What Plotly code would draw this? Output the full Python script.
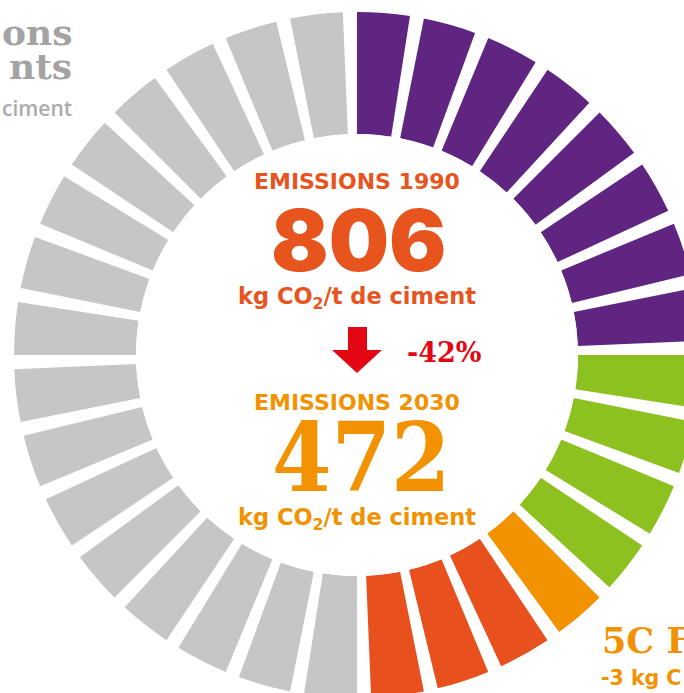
import plotly.graph_objects as go

# ---- data ----
group_names = ["Violet", "Vert", "Orange", "Rouge", "Gris"]
group_counts = [8, 4, 1, 3, 16]          # number of segments per group, clockwise from 12 o'clock
segment_value = 1                        # every segment has the same length
title_lines = ["ons", "nts"]
title_unit = "ciment"
label_1990 = "EMISSIONS 1990"
value_1990 = 806
label_2030 = "EMISSIONS 2030"
value_2030 = 472
unit_text = "kg CO<sub>2</sub>/t de ciment"
change_text = "-42%"
lever_title = "5C F"
lever_sub = "-3 kg C"

# ---- style ----
group_colors = {"Violet": "#5F2581", "Vert": "#8CC11F", "Orange": "#F39200",
                "Rouge": "#E8511D", "Gris": "#C6C6C6"}
cx, cy = 357, 355                 # ring centre in window pixels
r_in, r_out = 221, 343
W, H = 2 * cx, 2 * cy             # figure larger than the window: the ring is cropped like the reference
R = min(W, H) / 2

n_seg = sum(group_counts)
step = 360 / n_seg
bar_width = step * 0.79

seg_colors = []
seg_labels = []
for g, c in zip(group_names, group_counts):
    seg_colors += [group_colors[g]] * c
    seg_labels += [g] * c
thetas = [i * step + bar_width / 2 for i in range(n_seg)]
values = [segment_value for _ in range(n_seg)]

fig = go.Figure()
fig.add_trace(go.Barpolar(r=values, theta=thetas, width=[bar_width] * n_seg,
                          marker=dict(color=seg_colors, line=dict(width=0)),
                          text=seg_labels, hoverinfo="text", showlegend=False))

fig.update_layout(
    width=W, height=H, margin=dict(l=0, r=0, t=0, b=0),
    paper_bgcolor="white", plot_bgcolor="white", template="none",
    polar=dict(
        domain=dict(x=[0, 1], y=[0, 1]),
        hole=r_in / R,
        bgcolor="white",
        radialaxis=dict(visible=False, range=[0, segment_value * (R - r_in) / (r_out - r_in)],
                        showgrid=False, showline=False),
        angularaxis=dict(visible=False, rotation=90, direction="clockwise",
                         showgrid=False, showline=False),
    ),
)

def px(x):
    return x / W

def py(y):
    return 1 - y / H

def ann(text, x, y, size, color, family, weight="normal", xanchor="center"):
    fig.add_annotation(text=text, x=px(x), y=py(y), xref="paper", yref="paper",
                       showarrow=False, xanchor=xanchor, yanchor="middle",
                       font=dict(size=size, color=color, family=family, weight=weight))

red1990 = "#E8541E"
orange = "#F39200"
sans = "DejaVu Sans"
serif = "DejaVu Serif"
heavy = "Inter, Roboto, Open Sans"

ann(label_1990, 357, 181, 22, red1990, sans, "bold")
ann(str(value_1990), 358, 240, 85, red1990, heavy, 900)
ann(unit_text, 357, 298, 22.5, red1990, sans, "bold")
ann(change_text, 405, 352, 27, "#E30613", serif, "bold", "left")
ann(label_2030, 357, 402, 22, orange, sans, "bold")
ann(str(value_2030), 361, 457, 95, orange, "DejaVu Serif Condensed, DejaVu Serif", "bold")
ann(unit_text, 357, 519, 22.5, orange, sans, "bold")

ann(title_lines[0], 74, 32, 36, "#A3A3A3", serif, "bold", "right")
ann(title_lines[1], 74, 66, 36, "#A3A3A3", serif, "bold", "right")
ann(title_unit, 74, 108, 21, "#ABABAB", "Open Sans", 600, "right")

ann(lever_title, 600, 640, 35, orange, serif, "bold", "left")
ann(lever_sub, 599, 678, 20.5, orange, sans, "bold", "left")

# down arrow between the two values
pts = [(348, 327), (367, 327), (367, 350), (382, 350), (357, 373), (332, 350), (348, 350)]
path = "M " + " L ".join(f"{px(x):.5f},{py(y):.5f}" for x, y in pts) + " Z"
fig.add_shape(type="path", path=path, xref="paper", yref="paper",
              fillcolor="#E30613", line=dict(width=0))

# page: no body margin, and the part of the figure outside the window is simply cropped
post = ("document.documentElement.style.overflow='hidden';"
        "document.body.style.margin='0';document.body.style.overflow='hidden';")
fig.write_html("out.html", post_script=post, config={"displayModeBar": False})
